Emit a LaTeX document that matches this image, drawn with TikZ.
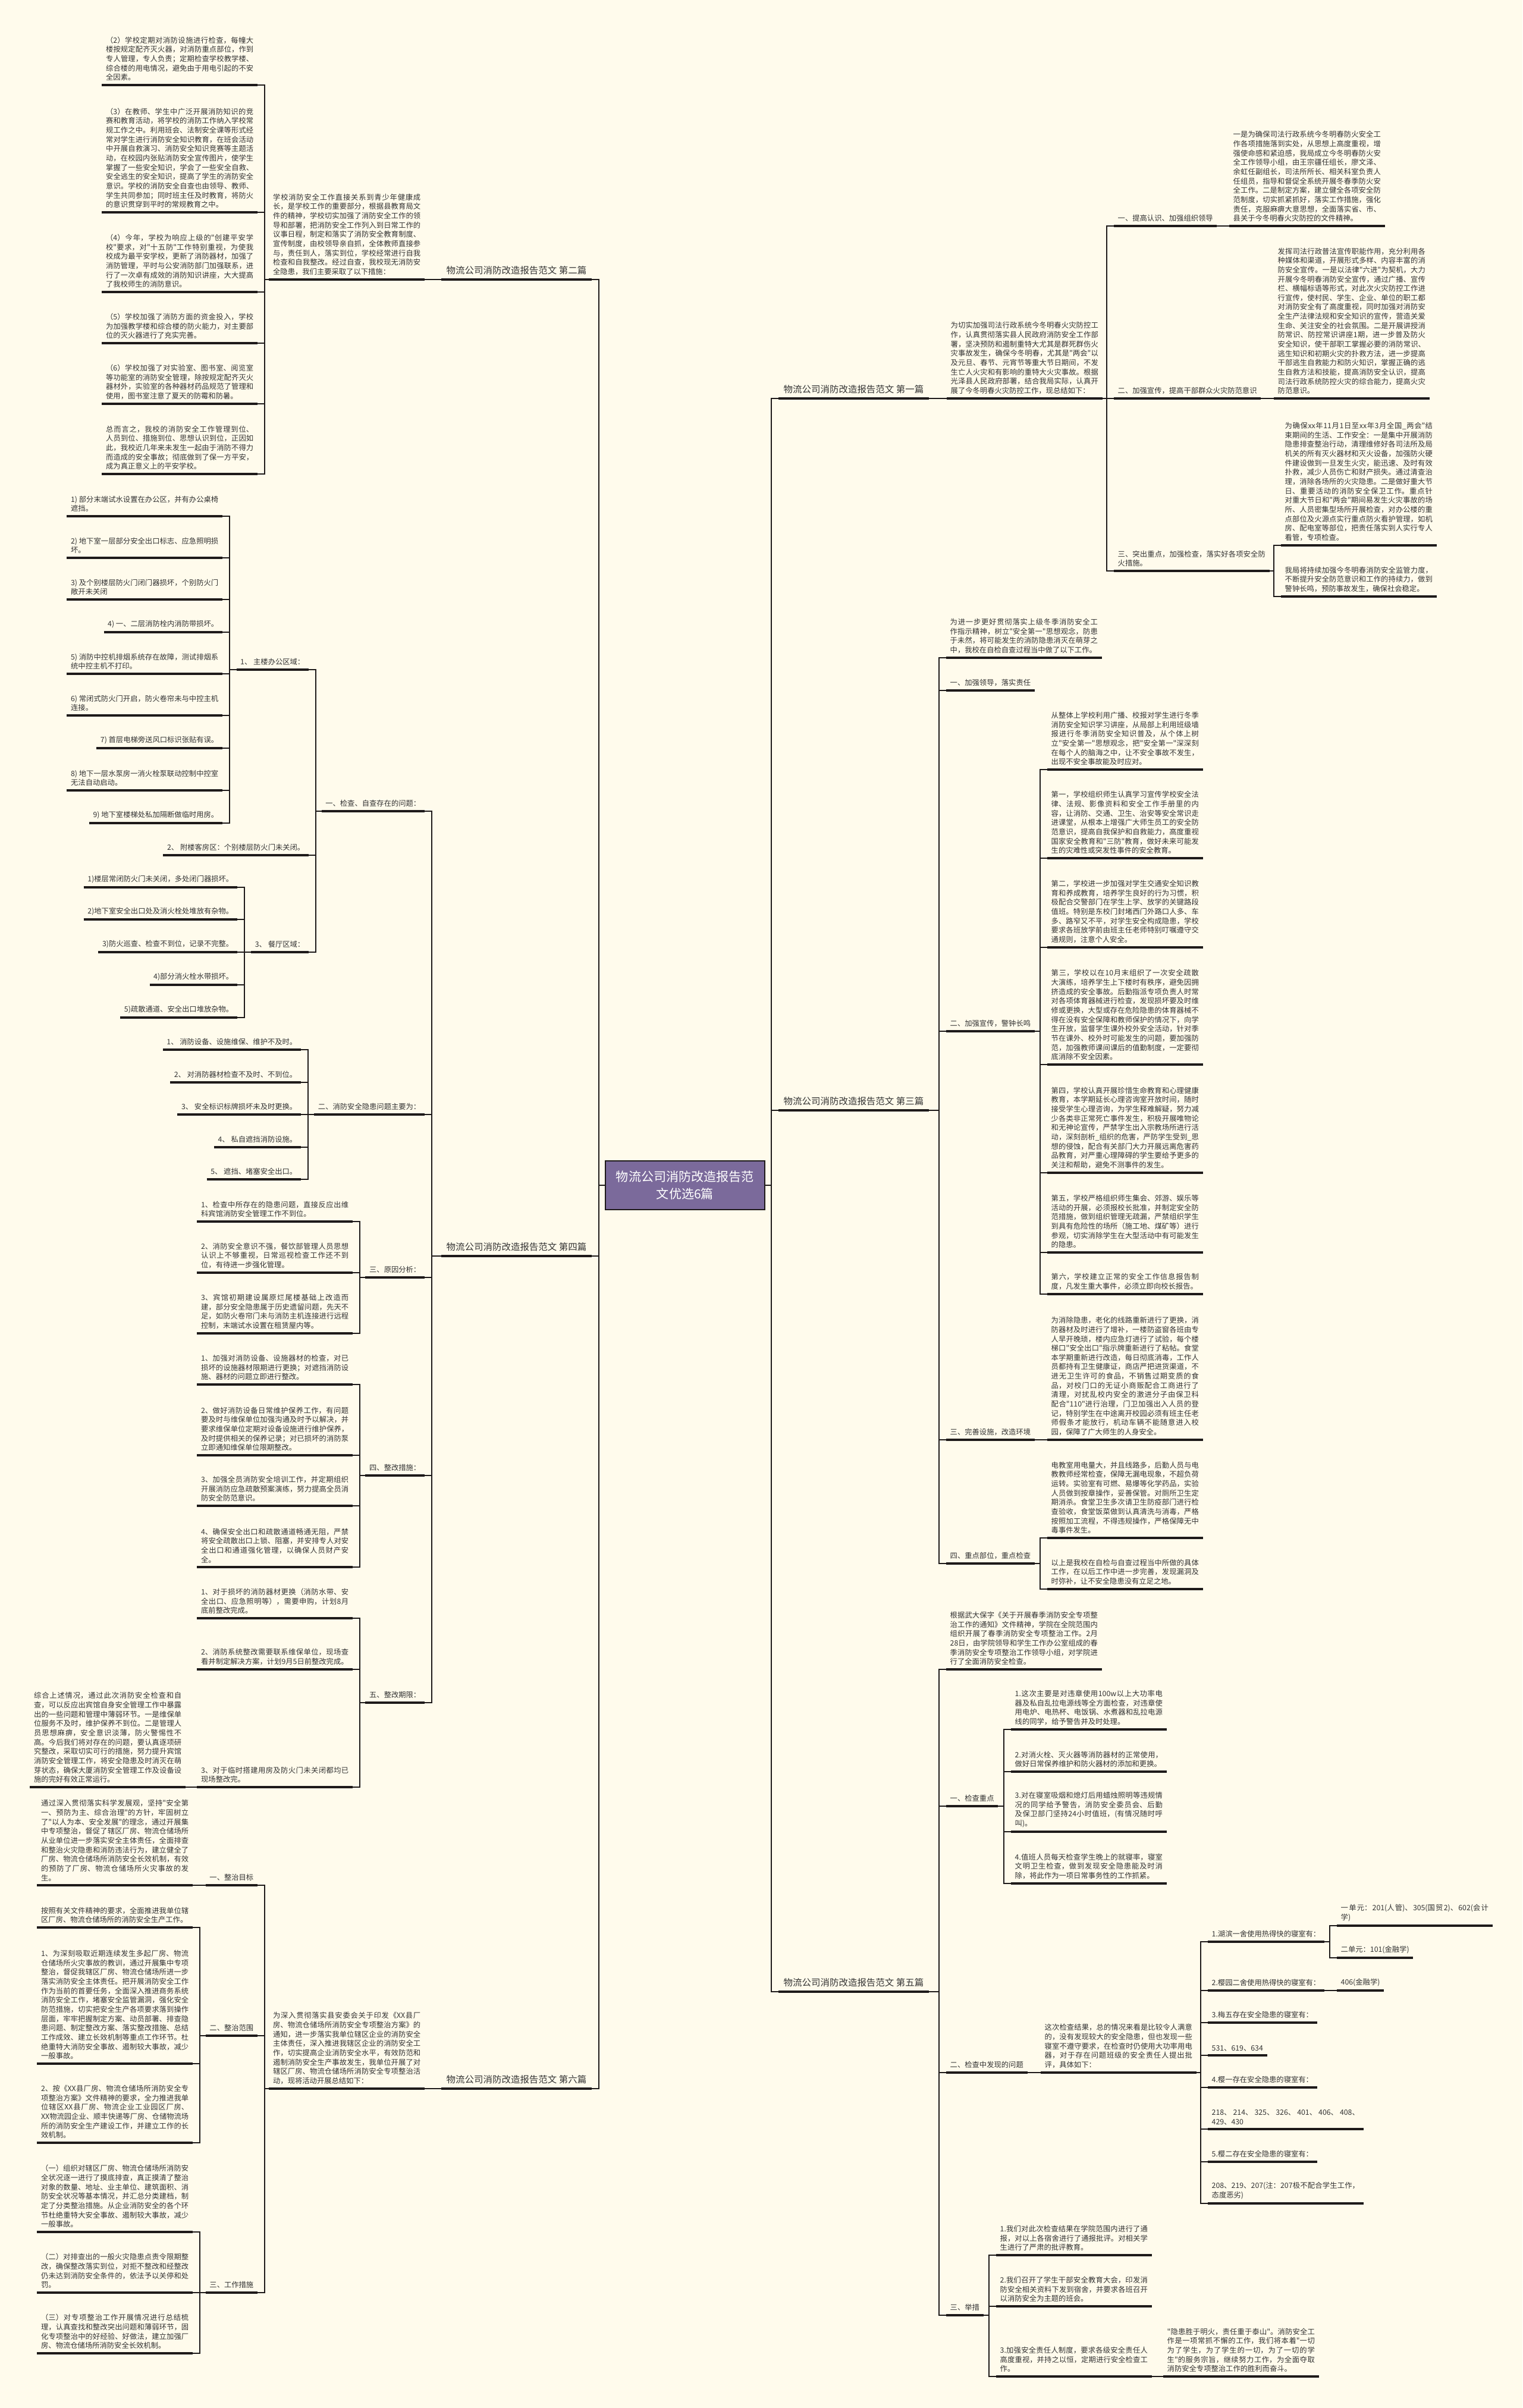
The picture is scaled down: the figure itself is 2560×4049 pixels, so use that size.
\documentclass[tikz,border=0pt]{standalone}
\usepackage{fontspec}
\newfontfamily\cjk{Noto Sans CJK SC}
\XeTeXlinebreaklocale "zh"
\XeTeXlinebreakskip=0pt plus 0.8pt
\definecolor{paper}{RGB}{255,251,236}
\definecolor{ink}{RGB}{51,51,51}
\definecolor{wire}{RGB}{30,26,26}
\definecolor{hub}{RGB}{123,106,155}
\newcommand\linkR[2]{\draw[conn] (#1.south east) -| ([xshift=-0.12cm]#2.south west) -- (#2.south west);}
\newcommand\linkL[2]{\draw[conn] (#1.south west) -| ([xshift=0.12cm]#2.south east) -- (#2.south east);}
\begin{document}
\begin{tikzpicture}[x=0.01cm,y=-0.01cm,
  conn/.style={draw=wire,line width=0.45pt},
  uline/.style={draw=wire,line width=0.95pt},
  txt/.style={font={\cjk\fontsize{3.5}{4.45}\selectfont},text=ink,inner xsep=0.06cm,inner ysep=0.065cm,
    append after command={(\tikzlastnode.south west) edge[uline] (\tikzlastnode.south east)}},
  para/.style={txt,text width=2.48cm,align=justify},
  lbl/.style={font={\cjk\fontsize{4.4}{5.5}\selectfont},text=ink,inner xsep=0.08cm,inner ysep=0.07cm,
    append after command={(\tikzlastnode.south west) edge[draw=wire,line width=1.1pt] (\tikzlastnode.south east)}},
  hubbox/.style={fill=hub,draw=wire,line width=0.6pt,text=white,font={\cjk\fontsize{6}{8}\selectfont},
    align=center,minimum width=2.68cm,minimum height=0.82cm}]
\fill[paper] (0,0) rectangle (2560,4049);
\useasboundingbox (0,0) rectangle (2560,4049);

\node[hubbox] (root) at (1152,1993) {物流公司消防改造报告范\\文优选6篇};

% left: 第二篇
\node[lbl,anchor=south east] (pian2) at (995,470) {物流公司消防改造报告范文 第二篇};
\node[para,anchor=south east] (e2p) at (714,470) {学校消防安全工作直接关系到青少年健康成长，是学校工作的重要部分，根据县教育局文件的精神，学校切实加强了消防安全工作的领导和部署，把消防安全工作列入到日常工作的议事日程，制定和落实了消防安全教育制度、宣传制度，由校领导亲自抓，全体教师直接参与，责任到人，落实到位，学校经常进行自我检查和自我整改。经过自查，我校现无消防安全隐患，我们主要采取了以下措施：};
\node[para,anchor=south east] (e2c1) at (433,143) {（2）学校定期对消防设施进行检查，每幢大楼按规定配齐灭火器，对消防重点部位，作到专人管理，专人负责；定期检查学校教学楼、综合楼的用电情况，避免由于用电引起的不安全因素。};
\node[para,anchor=south east] (e2c2) at (433,357) {（3）在教师、学生中广泛开展消防知识的竞赛和教育活动，将学校的消防工作纳入学校常规工作之中。利用班会、法制安全课等形式经常对学生进行消防安全知识教育，在班会活动中开展自救演习、消防安全知识竞赛等主题活动，在校园内张贴消防安全宣传图片，使学生掌握了一些安全知识，学会了一些安全自救、安全逃生的安全知识，提高了学生的消防安全意识。学校的消防安全自查也由领导、教师、学生共同参加；同时班主任及时教育，将防火的意识贯穿到平时的常规教育之中。};
\node[para,anchor=south east] (e2c3) at (433,491) {（4）今年，学校为响应上级的"创建平安学校"要求，对"十五防"工作特别重视，为使我校成为最平安学校，更新了消防器材，加强了消防管理，平时与公安消防部门加强联系，进行了一次卓有成效的消防知识讲座，大大提高了我校师生的消防意识。};
\node[para,anchor=south east] (e2c4) at (433,577) {（5）学校加强了消防方面的资金投入，学校为加强教学楼和综合楼的防火能力，对主要部位的灭火器进行了充实完善。};
\node[para,anchor=south east] (e2c5) at (433,679) {（6）学校加强了对实验室、图书室、阅览室等功能室的消防安全管理，除按规定配齐灭火器材外，实验室的各种器材药品规范了管理和使用，图书室注意了夏天的防霉和防暑。};
\node[para,anchor=south east] (e2c6) at (433,797) {总而言之，我校的消防安全工作管理到位、人员到位、措施到位、思想认识到位，正因如此，我校近几年来未发生一起由于消防不得力而造成的安全事故；彻底做到了保一方平安，成为真正意义上的平安学校。};

% left: 第四篇
\node[lbl,anchor=south east] (pian4) at (995,2112) {物流公司消防改造报告范文 第四篇};
\node[txt,anchor=south east] (e4s1) at (714,1364) {一、检查、自查存在的问题：};
\node[txt,anchor=south east] (e4s2) at (714,1874) {二、消防安全隐患问题主要为：};
\node[txt,anchor=south east] (e4s3) at (714,2148) {三、原因分析：};
\node[txt,anchor=south east] (e4s4) at (714,2481) {四、整改措施：};
\node[txt,anchor=south east] (e4s5) at (714,2863) {五、整改期限：};
\node[txt,anchor=south east] (e4a1) at (519,1126) {1、 主楼办公区域：};
\node[txt,anchor=south east] (e4a2) at (519,1438) {2、 附楼客房区：个别楼层防火门未关闭。};
\node[txt,anchor=south east] (e4a3) at (519,1601) {3、 餐厅区域：};
\node[para,anchor=south east] (e4m1) at (374,868) {1) 部分末端试水设置在办公区，并有办公桌椅遮挡。};
\node[para,anchor=south east] (e4m2) at (374,938) {2) 地下室一层部分安全出口标志、应急照明损坏。};
\node[para,anchor=south east] (e4m3) at (374,1008) {3) 及个别楼层防火门闭门器损坏，个别防火门敞开未关闭};
\node[txt,anchor=south east] (e4m4) at (374,1063) {4) 一、二层消防栓内消防带损坏。};
\node[para,anchor=south east] (e4m5) at (374,1133) {5) 消防中控机排烟系统存在故障，测试排烟系统中控主机不打印。};
\node[para,anchor=south east] (e4m6) at (374,1203) {6) 常闭式防火门开启，防火卷帘未与中控主机连接。};
\node[txt,anchor=south east] (e4m7) at (374,1258) {7) 首层电梯旁送风口标识张贴有误。};
\node[para,anchor=south east] (e4m8) at (374,1329) {8) 地下一层水泵房一消火栓泵联动控制中控室无法自动启动。};
\node[txt,anchor=south east] (e4m9) at (374,1384) {9) 地下室楼梯处私加隔断做临时用房。};
\node[txt,anchor=south east] (e4r1) at (399,1492) {1)楼层常闭防火门未关闭，多处闭门器损坏。};
\node[txt,anchor=south east] (e4r2) at (399,1546) {2)地下室安全出口处及消火栓处堆放有杂物。};
\node[txt,anchor=south east] (e4r3) at (399,1601) {3)防火巡查、检查不到位，记录不完整。};
\node[txt,anchor=south east] (e4r4) at (399,1656) {4)部分消火栓水带损坏。};
\node[txt,anchor=south east] (e4r5) at (399,1711) {5)疏散通道、安全出口堆放杂物。};
\node[txt,anchor=south east] (e4h1) at (506,1765) {1、 消防设备、设施维保、维护不及时。};
\node[txt,anchor=south east] (e4h2) at (506,1820) {2、 对消防器材检查不及时、不到位。};
\node[txt,anchor=south east] (e4h3) at (506,1874) {3、 安全标识标牌损坏未及时更换。};
\node[txt,anchor=south east] (e4h4) at (506,1929) {4、 私自遮挡消防设施。};
\node[txt,anchor=south east] (e4h5) at (506,1983) {5、 遮挡、堵塞安全出口。};
\node[para,anchor=south east] (e4y1) at (593,2054) {1、检查中所存在的隐患问题，直接反应出维科宾馆消防安全管理工作不到位。};
\node[para,anchor=south east] (e4y2) at (593,2140) {2、消防安全意识不强，餐饮部管理人员思想认识上不够重视，日常巡视检查工作还不到位，有待进一步强化管理。};
\node[para,anchor=south east] (e4y3) at (593,2242) {3、宾馆初期建设属原烂尾楼基础上改造而建，部分安全隐患属于历史遗留问题，先天不足，如防火卷帘门未与消防主机连接进行远程控制，末端试水设置在租赁屋内等。};
\node[para,anchor=south east] (e4z1) at (593,2328) {1、加强对消防设备、设施器材的检查，对已损坏的设施器材限期进行更换；对遮挡消防设施、器材的问题立即进行整改。};
\node[para,anchor=south east] (e4z2) at (593,2447) {2、做好消防设备日常维护保养工作，有问题要及时与维保单位加强沟通及时予以解决，并要求维保单位定期对设备设施进行维护保养，及时提供相关的保养记录；对已损坏的消防泵立即通知维保单位限期整改。};
\node[para,anchor=south east] (e4z3) at (593,2532) {3、加强全员消防安全培训工作，并定期组织开展消防应急疏散预案演练，努力提高全员消防安全防范意识。};
\node[para,anchor=south east] (e4z4) at (593,2635) {4、确保安全出口和疏散通道畅通无阻，严禁将安全疏散出口上锁、阻塞，并安排专人对安全出口和通道强化管理，以确保人员财产安全。};
\node[para,anchor=south east] (e4q1) at (593,2721) {1、对于损坏的消防器材更换（消防水带、安全出口、应急照明等），需要申购，计划8月底前整改完成。};
\node[para,anchor=south east] (e4q2) at (593,2807) {2、消防系统整改需要联系维保单位，现场查看并制定解决方案，计划9月5日前整改完成。};
\node[para,anchor=south east] (e4q3) at (593,3005) {3、对于临时搭建用房及防火门未关闭都均已现场整改完。};
\node[para,anchor=south east] (e4sum) at (312,3005) {综合上述情况，通过此次消防安全检查和自查，可以反应出宾馆自身安全管理工作中暴露出的一些问题和管理中薄弱环节。一是维保单位服务不及时，维护保养不到位。二是管理人员思想麻痹，安全意识淡薄，防火警惕性不高。今后我们将对存在的问题，要认真逐项研究整改，采取切实可行的措施，努力提升宾馆消防安全管理工作，将安全隐患及时消灭在萌芽状态，确保大厦消防安全管理工作及设备设施的完好有效正常运行。};

% left: 第六篇
\node[lbl,anchor=south east] (pian6) at (995,3512) {物流公司消防改造报告范文 第六篇};
\node[para,anchor=south east] (e6p) at (714,3512) {为深入贯彻落实县安委会关于印发《XX县厂房、物流仓储场所消防安全专项整治方案》的通知，进一步落实我单位辖区企业的消防安全主体责任，深入推进我辖区企业的消防安全工作，切实提高企业消防安全水平，有效防范和遏制消防安全生产事故发生，我单位开展了对辖区厂房、物流仓储场所消防安全专项整治活动，现将活动开展总结如下：};
\node[txt,anchor=south east] (e6s1) at (433,3170) {一、整治目标};
\node[txt,anchor=south east] (e6s2) at (433,3423) {二、整治范围};
\node[txt,anchor=south east] (e6s3) at (433,3855) {三、工作措施};
\node[para,anchor=south east] (e6g) at (324,3170) {通过深入贯彻落实科学发展观，坚持"安全第一、预防为主、综合治理"的方针，牢固树立了"以人为本、安全发展"的理念，通过开展集中专项整治，督促了辖区厂房、物流仓储场所从业单位进一步落实安全主体责任，全面排查和整治火灾隐患和消防违法行为，建立健全了厂房、物流仓储场所消防安全长效机制，有效的预防了厂房、物流仓储场所火灾事故的发生。};
\node[para,anchor=south east] (e6f1) at (324,3241) {按照有关文件精神的要求，全面推进我单位辖区厂房、物流仓储场所的消防安全生产工作。};
\node[para,anchor=south east] (e6f2) at (324,3470) {1、为深刻吸取近期连续发生多起厂房、物流仓储场所火灾事故的教训，通过开展集中专项整治，督促我辖区厂房、物流仓储场所进一步落实消防安全主体责任。把开展消防安全工作作为当前的首要任务，全面深入推进商务系统消防安全工作，堵塞安全监管漏洞，强化安全防范措施，切实把安全生产各项要求落到操作层面，牢牢把握制定方案、动员部署、排查隐患问题、制定整改方案、落实整改措施、总结工作成效、建立长效机制等重点工作环节。杜绝重特大消防安全事故、遏制较大事故，减少一般事故。};
\node[para,anchor=south east] (e6f3) at (324,3603) {2、按《XX县厂房、物流仓储场所消防安全专项整治方案》文件精神的要求，全力推进我单位辖区XX县厂房、物流企业工业园区厂房、XX物流园企业、顺丰快递等厂房、仓储物流场所的消防安全生产建设工作，并建立工作的长效机制。};
\node[para,anchor=south east] (e6w1) at (324,3753) {（一）组织对辖区厂房、物流仓储场所消防安全状况逐一进行了摸底排查，真正摸清了整治对象的数量、地址、业主单位、建筑面积、消防安全状况等基本情况，并汇总分类建档，制定了分类整治措施。从企业消防安全的各个环节杜绝重特大安全事故、遏制较大事故，减少一般事故。};
\node[para,anchor=south east] (e6w2) at (324,3855) {（二）对排查出的一般火灾隐患点责令限期整改，确保整改落实到位，对拒不整改和经整改仍未达到消防安全条件的，依法予以关停和处罚。};
\node[para,anchor=south east] (e6w3) at (324,3957) {（三）对专项整治工作开展情况进行总结梳理，认真查找和整改突出问题和薄弱环节，固化专项整治中的好经验、好做法，建立加强厂房、物流仓储场所消防安全长效机制。};

% right: 第一篇
\node[lbl,anchor=south west] (pian1) at (1309,670) {物流公司消防改造报告范文 第一篇};
\node[para,anchor=south west] (e1p) at (1592,670) {为切实加强司法行政系统今冬明春火灾防控工作，认真贯彻落实县人民政府消防安全工作部署，坚决预防和遏制重特大尤其是群死群伤火灾事故发生，确保今冬明春，尤其是"两会"以及元旦、春节、元宵节等重大节日期间，不发生亡人火灾和有影响的重特大火灾事故。根据光泽县人民政府部署，结合我局实际，认真开展了今冬明春火灾防控工作，现总结如下：};
\node[txt,anchor=south west] (e1s1) at (1873,380) {一、提高认识、加强组织领导};
\node[txt,anchor=south west] (e1s2) at (1873,670) {二、加强宣传，提高干部群众火灾防范意识};
\node[para,anchor=south west] (e1s3) at (1873,960) {三、突出重点，加强检查，落实好各项安全防火措施。};
\node[para,anchor=south west] (e1t1) at (2067,380) {一是为确保司法行政系统今冬明春防火安全工作各项措施落到实处，从思想上高度重视，增强使命感和紧迫感，我局成立今冬明春防火安全工作领导小组，由王宗疆任组长，廖文泽、余虹任副组长，司法所所长、相关科室负责人任组员，指导和督促全系统开展冬春季防火安全工作。二是制定方案，建立健全各项安全防范制度，切实抓紧抓好，落实工作措施，强化责任，克服麻痹大意思想，全面落实省、市、县关于今冬明春火灾防控的文件精神。};
\node[para,anchor=south west] (e1t2) at (2142,670) {发挥司法行政普法宣传职能作用，充分利用各种媒体和渠道，开展形式多样、内容丰富的消防安全宣传。一是以法律"六进"为契机，大力开展今冬明春消防安全宣传，通过广播、宣传栏、横幅标语等形式，对此次火灾防控工作进行宣传，使村民、学生、企业、单位的职工都对消防安全有了高度重视，同时加强对消防安全生产法律法规和安全知识的宣传，营造关爱生命、关注安全的社会氛围。二是开展讲授消防常识、防控常识讲座1期，进一步普及防火安全知识，使干部职工掌握必要的消防常识、逃生知识和初期火灾的扑救方法，进一步提高干部逃生自救能力和防火知识，掌握正确的逃生自救方法和技能，提高消防安全认识，提高司法行政系统防控火灾的综合能力，提高火灾防范意识。};
\node[para,anchor=south west] (e1t3a) at (2154,917) {为确保xx年11月1日至xx年3月全国\_两会"结束期间的生活、工作安全：一是集中开展消防隐患排查整治行动，清理维修好各司法所及局机关的所有灭火器材和灭火设备，加强防火硬件建设做到一旦发生火灾，能迅速、及时有效扑救，减少人员伤亡和财产损失。通过清查治理，消除各场所的火灾隐患。二是做好重大节日、重要活动的消防安全保卫工作。重点针对重大节日和"两会"期间易发生火灾事故的场所、人员密集型场所开展检查，对办公楼的重点部位及火源点实行重点防火看护管理，如机房、配电室等部位，把责任落实到人实行专人看管，专项检查。};
\node[para,anchor=south west] (e1t3b) at (2154,1003) {我局将持续加强今冬明春消防安全监管力度，不断提升安全防范意识和工作的持续力，做到警钟长鸣，预防事故发生，确保社会稳定。};

% right: 第三篇
\node[lbl,anchor=south west] (pian3) at (1309,1867) {物流公司消防改造报告范文 第三篇};
\node[para,anchor=south west] (e3p) at (1591,1106) {为进一步更好贯彻落实上级冬季消防安全工作指示精神，树立"安全第一"思想观念，防患于未然，将可能发生的消防隐患消灭在萌芽之中，我校在自检自查过程当中做了以下工作。};
\node[txt,anchor=south west] (e3s1) at (1591,1161) {一、加强领导，落实责任};
\node[txt,anchor=south west] (e3s2) at (1591,1734) {二、加强宣传，警钟长鸣};
\node[txt,anchor=south west] (e3s3) at (1591,2421) {三、完善设施，改造环境};
\node[txt,anchor=south west] (e3s4) at (1591,2629) {四、重点部位，重点检查};
\node[para,anchor=south west] (e3x1) at (1761,1294) {从整体上学校利用广播、校报对学生进行冬季消防安全知识学习讲座，从局部上利用班级墙报进行冬季消防安全知识普及，从个体上树立"安全第一"思想观念，把"安全第一"深深刻在每个人的脑海之中，让不安全事故不发生，出现不安全事故能及时应对。};
\node[para,anchor=south west] (e3x2) at (1761,1443) {第一，学校组织师生认真学习宣传学校安全法律、法规、影像资料和安全工作手册里的内容，让消防、交通、卫生、治安等安全常识走进课堂，从根本上增强广大师生员工的安全防范意识，提高自我保护和自救能力，高度重视国家安全教育和"三防"教育，做好未来可能发生的灾难性或突发性事件的安全教育。};
\node[para,anchor=south west] (e3x3) at (1761,1593) {第二，学校进一步加强对学生交通安全知识教育和养成教育，培养学生良好的行为习惯，积极配合交警部门在学生上学、放学的关键路段值班。特别是东校门封堵西门外路口人多、车多、路窄又不平，对学生安全构成隐患，学校要求各班放学前由班主任老师特别叮嘱遵守交通规则，注意个人安全。};
\node[para,anchor=south west] (e3x4) at (1761,1790) {第三，学校以在10月末组织了一次安全疏散大演练，培养学生上下楼时有秩序，避免因拥挤造成的安全事故。后勤指派专项负责人时常对各项体育器械进行检查，发现损坏要及时维修或更换，大型或存在危险隐患的体育器械不得在没有安全保障和教师保护的情况下，向学生开放，监督学生课外校外安全活动，针对季节在课外、校外时可能发生的问题，要加强防范，加强教师课间课后的值勤制度，一定要彻底消除不安全因素。};
\node[para,anchor=south west] (e3x5) at (1761,1972) {第四，学校认真开展珍惜生命教育和心理健康教育，本学期延长心理咨询室开放时间，随时接受学生心理咨询，为学生释难解疑，努力减少各类非正常死亡事件发生，积极开展唯物论和无神论宣传，严禁学生出入宗教场所进行活动，深刻剖析\_组织的危害，严防学生受到\_思想的侵蚀，配合有关部门大力开展远离危害药品教育，对严重心理障碍的学生要给予更多的关注和帮助，避免不测事件的发生。};
\node[para,anchor=south west] (e3x6) at (1761,2106) {第五，学校严格组织师生集会、郊游、娱乐等活动的开展，必须报校长批准，并制定安全防范措施，做到组织管理无疏漏，严禁组织学生到具有危险性的场所（施工地、煤矿等）进行参观，切实消除学生在大型活动中有可能发生的隐患。};
\node[para,anchor=south west] (e3x7) at (1761,2176) {第六，学校建立正常的安全工作信息报告制度，凡发生重大事件，必须立即向校长报告。};
\node[para,anchor=south west] (e3y1) at (1761,2421) {为消除隐患，老化的线路重新进行了更换，消防器材及时进行了增补，一楼防盗窗各班由专人早开晚琐，楼内应急灯进行了试验，每个楼梯口"安全出口"指示牌重新进行了粘帖。食堂本学期重新进行改造，每日彻底消毒，工作人员都持有卫生健康证，商店严把进货渠道，不进无卫生许可的食品，不销售过期变质的食品，对校门口的无证小商贩配合工商进行了清理，对扰乱校内安全的激进分子由保卫科配合"110"进行治理，门卫加强出入人员的登记，特别学生在中途离开校园必须有班主任老师假条才能放行，机动车辆不能随意进入校园，保障了广大师生的人身安全。};
\node[para,anchor=south west] (e3z1) at (1761,2586) {电教室用电量大，并且线路多，后勤人员与电教教师经常检查，保障无漏电现象，不超负荷运转。实验室有可燃、易爆等化学药品，实验人员做到按章操作，妥善保管。对厕所卫生定期消杀。食堂卫生多次请卫生防疫部门进行检查验收，食堂饭菜做到认真清洗与消毒，严格按照加工流程，不得违规操作，严格保障无中毒事件发生。};
\node[para,anchor=south west] (e3z2) at (1761,2672) {以上是我校在自检与自查过程当中所做的具体工作，在以后工作中进一步完善，发现漏洞及时弥补，让不安全隐患没有立足之地。};

% right: 第五篇
\node[lbl,anchor=south west] (pian5) at (1309,3349) {物流公司消防改造报告范文 第五篇};
\node[para,anchor=south west] (e5p) at (1591,2807) {根据武大保字《关于开展春季消防安全专项整治工作的通知》文件精神，学院在全院范围内组织开展了春季消防安全专项整治工作。2月28日，由学院领导和学生工作办公室组成的春季消防安全专项整治工作领导小组，对学院进行了全面消防安全检查。};
\node[txt,anchor=south west] (e5s1) at (1591,3037) {一、检查重点};
\node[txt,anchor=south west] (e5s2) at (1591,3485) {二、检查中发现的问题};
\node[txt,anchor=south west] (e5s3) at (1591,3893) {三、举措};
\node[para,anchor=south west] (e5a1) at (1700,2908) {1.这次主要是对违章使用100w以上大功率电器及私自乱拉电源线等全方面检查，对违章使用电炉、电热杯、电饭锅、水煮器和乱拉电源线的同学，给予警告并及时处理。};
\node[para,anchor=south west] (e5a2) at (1700,2979) {2.对消火栓、灭火器等消防器材的正常使用，做好日常保养维护和防火器材的添加和更换。};
\node[para,anchor=south west] (e5a3) at (1700,3080) {3.对在寝室吸烟和熄灯后用蜡烛照明等违规情况的同学给予警告，消防安全委员会、后勤及保卫部门坚持24小时值班，(有情况随时呼叫)。};
\node[para,anchor=south west] (e5a4) at (1700,3167) {4.值班人员每天检查学生晚上的就寝率，寝室文明卫生检查，做到发现安全隐患能及时消除，将此作为一项日常事务性的工作抓紧。};
\node[para,anchor=south west] (e5bp) at (1750,3485) {这次检查结果，总的情况来看是比较令人满意的，没有发现较大的安全隐患，但也发现一些寝室不遵守要求，在检查时仍使用大功率用电器，对于存在问题班级的安全责任人提出批评，具体如下：};
\node[txt,anchor=south west] (e5b1) at (2031,3265) {1.湖滨一舍使用热得快的寝室有：};
\node[txt,anchor=south west] (e5b2) at (2031,3347) {2.樱园二舍使用热得快的寝室有：};
\node[txt,anchor=south west] (e5b3) at (2031,3401) {3.梅五存在安全隐患的寝室有：};
\node[txt,anchor=south west] (e5b4) at (2031,3456) {531、619、634};
\node[txt,anchor=south west] (e5b5) at (2031,3510) {4.樱一存在安全隐患的寝室有：};
\node[para,anchor=south west] (e5b6) at (2031,3580) {218、214、325、326、401、406、408、429、430};
\node[txt,anchor=south west] (e5b7) at (2031,3635) {5.樱二存在安全隐患的寝室有：};
\node[para,anchor=south west] (e5b8) at (2031,3705) {208、219、207(注：207极不配合学生工作，态度恶劣)};
\node[para,anchor=south west] (e5u1) at (2248,3238) {一单元：201(人管)、305(国贸2)、602(会计学)};
\node[txt,anchor=south west] (e5u2) at (2248,3292) {二单元：101(金融学)};
\node[txt,anchor=south west] (e5u3) at (2248,3347) {406(金融学)};
\node[para,anchor=south west] (e5c1) at (1675,3792) {1.我们对此次检查结果在学院范围内进行了通报，对以上各宿舍进行了通报批评。对相关学生进行了严肃的批评教育。};
\node[para,anchor=south west] (e5c2) at (1675,3878) {2.我们召开了学生干部安全教育大会，印发消防安全相关资料下发到宿舍，并要求各班召开以消防安全为主题的班会。};
\node[para,anchor=south west] (e5c3) at (1675,3996) {3.加强安全责任人制度，要求各级安全责任人高度重视，并持之以恒，定期进行安全检查工作。};
\node[para,anchor=south west] (e5end) at (1956,3996) {"隐患胜于明火，责任重于泰山"。消防安全工作是一项常抓不懈的工作，我们将本着"一切为了学生，为了学生的一切，为了一切的学生"的服务宗旨，继续努力工作，为全面夺取消防安全专项整治工作的胜利而奋斗。};

% connectors
\foreach \p in {pian2,pian4,pian6} \draw[conn] (root.west) -| ([xshift=0.12cm]\p.south east) -- (\p.south east);
\foreach \p in {pian1,pian3,pian5} \draw[conn] (root.east) -| ([xshift=-0.12cm]\p.south west) -- (\p.south west);
\linkL{pian2}{e2p}
\foreach \i in {1,...,6} \linkL{e2p}{e2c\i};
\foreach \i in {1,...,5} \linkL{pian4}{e4s\i};
\foreach \i in {1,...,3} \linkL{e4s1}{e4a\i};
\foreach \i in {1,...,9} \linkL{e4a1}{e4m\i};
\foreach \i in {1,...,5} \linkL{e4a3}{e4r\i};
\foreach \i in {1,...,5} \linkL{e4s2}{e4h\i};
\foreach \i in {1,...,3} \linkL{e4s3}{e4y\i};
\foreach \i in {1,...,4} \linkL{e4s4}{e4z\i};
\foreach \i in {1,...,3} \linkL{e4s5}{e4q\i};
\linkL{e4q3}{e4sum}
\linkL{pian6}{e6p}
\foreach \i in {1,...,3} \linkL{e6p}{e6s\i};
\linkL{e6s1}{e6g}
\foreach \i in {1,...,3} \linkL{e6s2}{e6f\i};
\foreach \i in {1,...,3} \linkL{e6s3}{e6w\i};
\linkR{pian1}{e1p}
\foreach \i in {1,...,3} \linkR{e1p}{e1s\i};
\linkR{e1s1}{e1t1}
\linkR{e1s2}{e1t2}
\linkR{e1s3}{e1t3a}
\linkR{e1s3}{e1t3b}
\linkR{pian3}{e3p}
\foreach \i in {1,...,4} \linkR{pian3}{e3s\i};
\foreach \i in {1,...,7} \linkR{e3s2}{e3x\i};
\linkR{e3s3}{e3y1}
\linkR{e3s4}{e3z1}
\linkR{e3s4}{e3z2}
\linkR{pian5}{e5p}
\foreach \i in {1,...,3} \linkR{pian5}{e5s\i};
\foreach \i in {1,...,4} \linkR{e5s1}{e5a\i};
\linkR{e5s2}{e5bp}
\foreach \i in {1,...,8} \linkR{e5bp}{e5b\i};
\linkR{e5b1}{e5u1}
\linkR{e5b1}{e5u2}
\linkR{e5b2}{e5u3}
\foreach \i in {1,...,3} \linkR{e5s3}{e5c\i};
\linkR{e5c3}{e5end}
\end{tikzpicture}
\end{document}
